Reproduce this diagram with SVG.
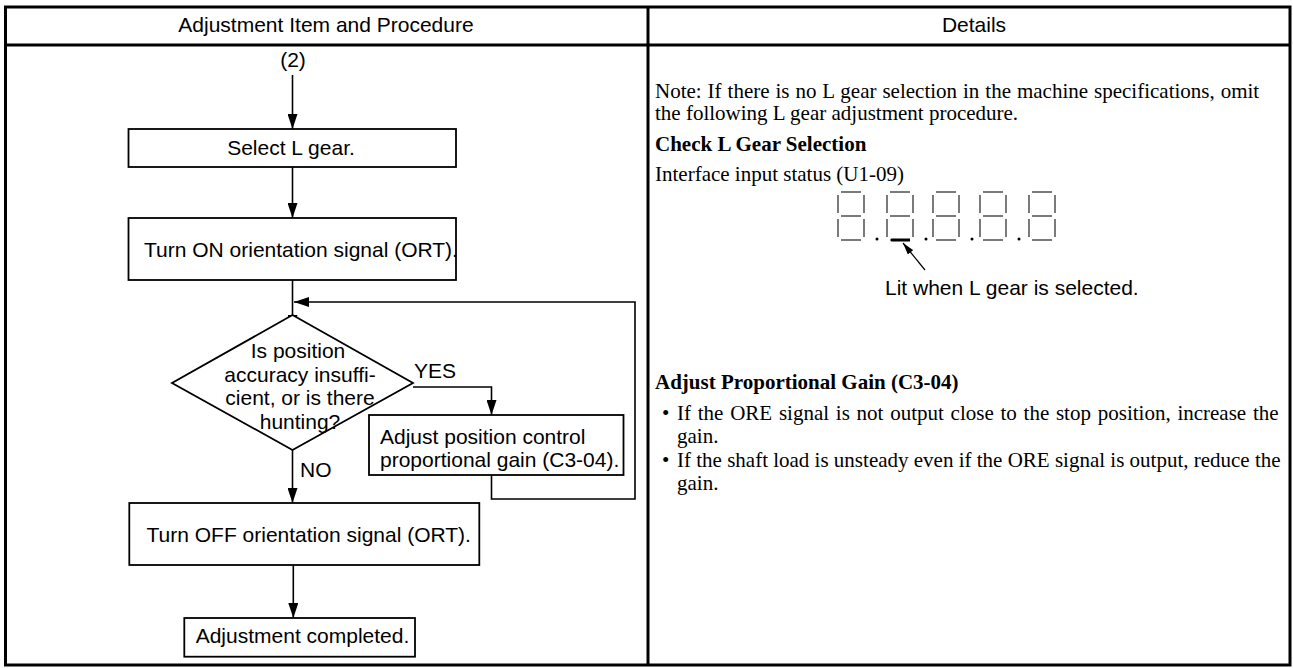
<svg xmlns="http://www.w3.org/2000/svg" width="1293" height="668" viewBox="0 0 1293 668">
<defs>
<style>
.tb{fill:none;stroke:#000;stroke-width:3}
.bx{fill:#fff;stroke:#000;stroke-width:1.8}
.ln{fill:none;stroke:#000;stroke-width:1.6}
.sans{font-family:"Liberation Sans",Arial,sans-serif;font-size:21px;fill:#000}
.serif{font-family:"Liberation Serif","Times New Roman",serif;font-size:21px;fill:#000}
.bold{font-weight:bold}
.seg{fill:none;stroke:#222;stroke-width:1.2}
</style>
<marker id="ah" viewBox="0 0 15 10" refX="15" refY="5" markerWidth="15" markerHeight="10" markerUnits="userSpaceOnUse" orient="auto">
<path d="M0,0 L15,5 L0,10 Z" fill="#000"/>
</marker>
<marker id="ahs" viewBox="0 0 12 7" refX="12" refY="3.5" markerWidth="12" markerHeight="7" markerUnits="userSpaceOnUse" orient="auto">
<path d="M0,0 L12,3.5 L0,7 Z" fill="#000"/>
</marker>
<g id="digit">
<line class="seg" x1="3" y1="0" x2="23" y2="0"/>
<line class="seg" x1="3" y1="24" x2="23" y2="24"/>
<line class="seg" x1="3" y1="48" x2="23" y2="48"/>
<line class="seg" x1="0" y1="3" x2="0" y2="21"/>
<line class="seg" x1="0" y1="27" x2="0" y2="45"/>
<line class="seg" x1="26" y1="3" x2="26" y2="21"/>
<line class="seg" x1="26" y1="27" x2="26" y2="45"/>
</g>
</defs>
<rect width="1293" height="668" fill="#fff"/>

<g id="table">
<rect class="tb" x="5.5" y="7" width="1284.5" height="658"/>
<line class="tb" x1="5.5" y1="45" x2="1290" y2="45"/>
<line class="tb" x1="648" y1="7" x2="648" y2="665"/>
<text class="sans" x="326" y="32" text-anchor="middle">Adjustment Item and Procedure</text>
<text class="sans" x="974" y="32" text-anchor="middle">Details</text>
</g>

<g id="connectors">
<line class="ln" x1="292.5" y1="75" x2="292.5" y2="129" marker-end="url(#ah)"/>
<line class="ln" x1="292.5" y1="167" x2="292.5" y2="218" marker-end="url(#ah)"/>
<line class="ln" x1="292.5" y1="280" x2="292.5" y2="330" marker-end="url(#ah)"/>
<polyline class="ln" points="491.5,475 491.5,499 635,499 635,302 294,302" marker-end="url(#ah)"/>
<polyline class="ln" points="413,387 491.5,387 491.5,415" marker-end="url(#ah)"/>
<line class="ln" x1="292.5" y1="450" x2="292.5" y2="503" marker-end="url(#ah)"/>
<line class="ln" x1="293.3" y1="565" x2="293.3" y2="618" marker-end="url(#ah)"/>
</g>

<g id="start">
<text class="sans" x="293" y="67" text-anchor="middle">(2)</text>
</g>

<g id="select">
<rect class="bx" x="128.5" y="129" width="327.5" height="38"/>
<text class="sans" x="291" y="155" text-anchor="middle">Select L gear.</text>
</g>

<g id="turn-on">
<rect class="bx" x="128.5" y="218" width="327.5" height="62"/>
<text class="sans" x="144" y="257">Turn ON orientation signal (ORT).</text>
</g>

<g id="decision">
<polygon class="bx" points="292.5,315 413,383 292.5,450 172,383"/>
<text class="sans" x="298" y="358" text-anchor="middle">Is position</text>
<text class="sans" x="300" y="381.5" text-anchor="middle">accuracy insuffi-</text>
<text class="sans" x="300" y="405" text-anchor="middle">cient, or is there</text>
<text class="sans" x="300" y="428.5" text-anchor="middle">hunting?</text>
<text class="sans" x="414" y="378">YES</text>
<text class="sans" x="300" y="477">NO</text>
</g>

<g id="adjust">
<rect class="bx" x="369" y="415" width="254.5" height="60"/>
<text class="sans" x="380" y="443.5">Adjust position control</text>
<text class="sans" x="380" y="467">proportional gain (C3-04).</text>
</g>

<g id="turn-off">
<rect class="bx" x="129.3" y="503" width="350" height="62"/>
<text class="sans" x="146.5" y="542">Turn OFF orientation signal (ORT).</text>
</g>

<g id="completed">
<rect class="bx" x="184.3" y="618" width="230.7" height="38.7"/>
<text class="sans" x="302.5" y="643" text-anchor="middle">Adjustment completed.</text>
</g>

<g id="details">
<text class="serif" x="655" y="98" word-spacing="0.7">Note: If there is no L gear selection in the machine specifications, omit</text>
<text class="serif" x="655" y="120">the following L gear adjustment procedure.</text>
<text class="serif bold" x="655" y="151">Check L Gear Selection</text>
<text class="serif" x="655" y="181">Interface input status (U1-09)</text>
<use href="#digit" x="838" y="192"/>
<use href="#digit" x="887" y="192"/>
<use href="#digit" x="933" y="192"/>
<use href="#digit" x="980" y="192"/>
<use href="#digit" x="1029" y="192"/>
<circle cx="877" cy="239" r="1.5" fill="#000"/>
<circle cx="926" cy="239" r="1.5" fill="#000"/>
<circle cx="972" cy="239" r="1.5" fill="#000"/>
<circle cx="1019" cy="239" r="1.5" fill="#000"/>
<line x1="891" y1="240" x2="910" y2="240" stroke="#000" stroke-width="3"/>
<line x1="925" y1="270" x2="903" y2="243" stroke="#000" stroke-width="1.2" marker-end="url(#ahs)"/>
<text class="sans" x="885" y="295">Lit when L gear is selected.</text>
<text class="serif bold" x="655" y="389">Adjust Proportional Gain (C3-04)</text>
<text class="serif" y="420"><tspan x="662">•</tspan><tspan x="677" word-spacing="1.5">If the ORE signal is not output close to the stop position, increase the</tspan></text>
<text class="serif" x="677" y="443">gain.</text>
<text class="serif" y="467"><tspan x="662">•</tspan><tspan x="677">If the shaft load is unsteady even if the ORE signal is output, reduce the</tspan></text>
<text class="serif" x="677" y="490">gain.</text>
</g>
</svg>
